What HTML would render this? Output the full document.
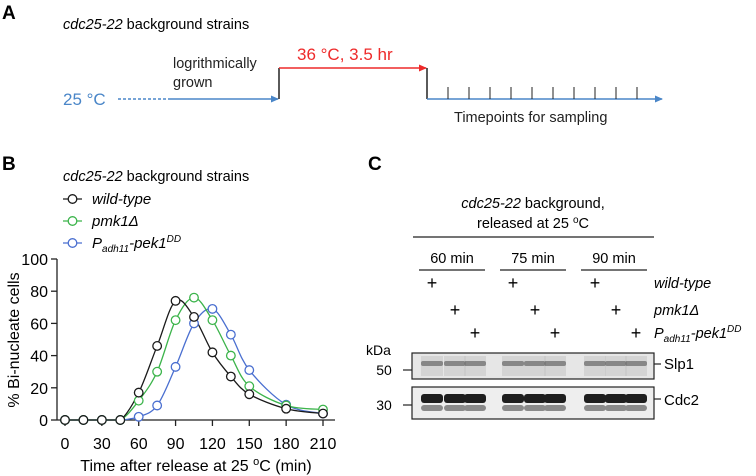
<!DOCTYPE html>
<html><head><meta charset="utf-8"><style>
html,body{margin:0;padding:0;background:#fff;}
svg{display:block;font-family:"Liberation Sans",Arial,sans-serif;}
</style></head><body>
<svg id="fig" width="756" height="476" viewBox="0 0 756 476">
<defs>
<marker id="ab" markerWidth="8" markerHeight="8" refX="7" refY="4" orient="auto" markerUnits="userSpaceOnUse"><path d="M0,0.5 L8,4 L0,7.5 Z" fill="#4a86c8"/></marker>
<marker id="ar" markerWidth="8" markerHeight="8" refX="7" refY="4" orient="auto" markerUnits="userSpaceOnUse"><path d="M0,0.5 L8,4 L0,7.5 Z" fill="#ee2a2a"/></marker>
</defs>
<g>
<text x="2" y="19" font-size="19" font-weight="bold">A</text>
<text x="63" y="29" font-size="14.5"><tspan font-style="italic">cdc25-22</tspan> background strains</text>
<text x="63" y="105" font-size="17" fill="#4a86c8">25 °C</text>
<line x1="118" y1="99" x2="170" y2="99" stroke="#4a86c8" stroke-width="1.5" stroke-dasharray="3,2"/>
<line x1="170" y1="99" x2="278" y2="99" stroke="#4a86c8" stroke-width="1.5" marker-end="url(#ab)"/>
<text x="173" y="68" font-size="14.5" fill="#222">logrithmically</text>
<text x="173" y="87" font-size="14.5" fill="#222">grown</text>
<line x1="279" y1="99" x2="279" y2="68" stroke="#222" stroke-width="1.5"/>
<line x1="279" y1="68" x2="426" y2="68" stroke="#ee2a2a" stroke-width="1.5" marker-end="url(#ar)"/>
<text x="297" y="60" font-size="17" fill="#ee2a2a">36 °C, 3.5 hr</text>
<line x1="427" y1="68" x2="427" y2="99" stroke="#222" stroke-width="1.5"/>
<line x1="427" y1="99" x2="662" y2="99" stroke="#4a86c8" stroke-width="1.5" marker-end="url(#ab)"/>
<g id="tpticks" stroke="#222" stroke-width="1"></g>
<text x="454" y="122" font-size="14.5" fill="#222">Timepoints for sampling</text>
</g>
<g>
<text x="2" y="170" font-size="19" font-weight="bold">B</text>
<text x="63" y="181" font-size="14.5"><tspan font-style="italic">cdc25-22</tspan> background strains</text>
<g id="legend"></g>
<line x1="57" y1="259" x2="57" y2="420" stroke="#222" stroke-width="1.3"/>
<line x1="57" y1="420" x2="335" y2="420" stroke="#222" stroke-width="1.3"/>
<g id="axes"></g>
<g id="series"></g>
<text transform="translate(19,340) rotate(-90)" text-anchor="middle" font-size="16">% Bi-nucleate cells</text>
<text x="196" y="471" text-anchor="middle" font-size="16">Time after release at 25 <tspan font-size="11" dy="-6">o</tspan><tspan dy="6">C (min)</tspan></text>
</g>
<g>
<text x="368" y="170" font-size="19" font-weight="bold">C</text>
<text x="533" y="208" text-anchor="middle" font-size="14.5"><tspan font-style="italic">cdc25-22</tspan> background,</text>
<text x="533" y="228" text-anchor="middle" font-size="14.5">released at 25 <tspan font-size="10" dy="-5">o</tspan><tspan dy="5">C</tspan></text>
<line x1="413" y1="237" x2="654" y2="237" stroke="#222" stroke-width="1.2"/>
<g id="blot"></g>
<text x="366" y="355" font-size="14">kDa</text>
<text x="384" y="375" font-size="14" text-anchor="middle">50</text>
<text x="384" y="410" font-size="14" text-anchor="middle">30</text>
<line x1="403" y1="370" x2="412" y2="370" stroke="#222" stroke-width="1.2"/>
<line x1="403" y1="405" x2="412" y2="405" stroke="#222" stroke-width="1.2"/>
<line x1="654" y1="364" x2="661" y2="364" stroke="#222" stroke-width="1.2"/>
<line x1="654" y1="399" x2="661" y2="399" stroke="#222" stroke-width="1.2"/>
<text x="664" y="369" font-size="15">Slp1</text>
<text x="664" y="405" font-size="15">Cdc2</text>
</g>
</svg>
<script>
const times=[0,15,30,45,60,75,90,105,120,135,150,180,210];
const wtVals=[0,0,0,0,17,46,74,64,42,27,16,7,4];
const pmkVals=[0,0,0,0,12,30,62,76,62,40,21,9,6.5];
const pekVals=[0,0,0,0,2,9,33,60,69,53,31,9.5,4];
const xTicks=[0,30,60,90,120,150,180,210];
const yTicks=[0,20,40,60,80,100];
const NS='http://www.w3.org/2000/svg';
function mk(t,a,p){const e=document.createElementNS(NS,t);for(const k in a)e.setAttribute(k,a[k]);p.appendChild(e);return e;}
const X=v=>65+(v/210)*258;
const Y=v=>420-(v/100)*161;
const axes=document.getElementById('axes');
xTicks.forEach(t=>{
 mk('line',{x1:X(t),y1:420,x2:X(t),y2:426,stroke:'#222','stroke-width':1.3},axes);
 const tx=mk('text',{x:X(t),y:449,'text-anchor':'middle','font-size':16},axes);tx.textContent=t;
 
 
});
yTicks.forEach(t=>{
 mk('line',{x1:51,y1:Y(t),x2:57,y2:Y(t),stroke:'#222','stroke-width':1.3},axes);
 const tx=mk('text',{x:48,y:Y(t)+6,'text-anchor':'end','font-size':16},axes);tx.textContent=t;
 
 
});
function smooth(pts){let d='M'+pts[0][0]+','+pts[0][1];
 for(let i=0;i<pts.length-1;i++){const p0=pts[i-1]||pts[i],p1=pts[i],p2=pts[i+1],p3=pts[i+2]||p2;
  let c1y=p1[1]+(p2[1]-p0[1])/6,c2y=p2[1]-(p3[1]-p1[1])/6;
  c1y=Math.min(c1y,420);c2y=Math.min(c2y,420);
  d+=' C'+(p1[0]+(p2[0]-p0[0])/6)+','+c1y+' '+(p2[0]-(p3[0]-p1[0])/6)+','+c2y+' '+p2[0]+','+p2[1];}
 return d;}
const series=[['wild-type',wtVals,'#1a1a1a'],['pmk1',pmkVals,'#3cb44b'],['pek1DD',pekVals,'#4a6fd0']];
const sg=document.getElementById('series');
[series[2],series[1],series[0]].forEach(([n,vals,c])=>{
 const pts=times.map((t,i)=>[X(t),Y(vals[i])]);
 const p=mk('path',{d:smooth(pts),fill:'none',stroke:c,'stroke-width':1.3},sg);
 
 
});
[series[2],series[1],series[0]].forEach(([n,vals,c])=>{
 times.forEach((t,i)=>{
  const ci=mk('circle',{cx:X(t),cy:Y(vals[i]),r:4.3,fill:'#fff',stroke:c,'stroke-width':1.3},sg);
  
  
 });
});
const lg=document.getElementById('legend');
const legY=[199,221,243];
const legHtml=['<tspan font-style="italic">wild-type</tspan>','<tspan font-style="italic">pmk1Δ</tspan>','<tspan font-style="italic">P<tspan font-size="10" dy="4">adh11</tspan><tspan dy="-4">-pek1</tspan><tspan font-size="10" dy="-6">DD</tspan></tspan>'];
series.forEach(([n,v,c],i)=>{
 const g=mk('g',{},lg);
 
 
 mk('line',{x1:63,y1:legY[i],x2:82,y2:legY[i],stroke:c,'stroke-width':1.3},g);
 mk('circle',{cx:72.5,cy:legY[i],r:4.3,fill:'#fff',stroke:c,'stroke-width':1.3},g);
 const t=mk('text',{x:92,y:legY[i]+5,'font-size':15},g);t.innerHTML=legHtml[i];
});
const tp=document.getElementById('tpticks');
for(let i=0;i<10;i++){mk('line',{x1:448+i*21,y1:87,x2:448+i*21,y2:99},tp);}
const bl=document.getElementById('blot');
const groups=['60 min','75 min','90 min'];const gc=[452,533,614];
groups.forEach((g,i)=>{const t=mk('text',{x:gc[i],y:263,'text-anchor':'middle','font-size':14.5},bl);t.textContent=g;
 mk('line',{x1:gc[i]-33,y1:270,x2:gc[i]+33,y2:270,stroke:'#222','stroke-width':1.2},bl);});
const laneX=[[432,455,475],[513,535,555],[595,616,636]];
const rowY=[289,316,339];
laneX.forEach(gr=>gr.forEach((x,j)=>{const t=mk('text',{x:x,y:rowY[j],'text-anchor':'middle','font-size':18},bl);t.textContent='+';}));
const lab=['wild-type','pmk1Δ','P<tspan font-size="10" dy="4">adh11</tspan><tspan dy="-4">-pek1</tspan><tspan font-size="10" dy="-6">DD</tspan>'];
lab.forEach((l,j)=>{const t=mk('text',{x:654,y:rowY[j]-1,'font-size':14.5,'font-style':'italic'},bl);t.innerHTML=l;});
const b1=mk('rect',{x:412,y:353,width:242,height:26,fill:'#e6e6e6',stroke:'#222','stroke-width':1.2},bl);


const b2=mk('rect',{x:412,y:387,width:242,height:32,fill:'#eeeeee',stroke:'#222','stroke-width':1.2},bl);


laneX.forEach(gr=>gr.forEach(x=>{
 mk('rect',{x:x-11,y:356,width:22,height:20,fill:'#c4c4c4',opacity:0.55},bl);
 mk('rect',{x:x-11,y:361,width:22,height:5,rx:2,fill:'#666',opacity:0.7},bl);
 mk('rect',{x:x-11,y:394,width:22,height:9,rx:3,fill:'#1e1e1e'},bl);
 mk('rect',{x:x-11,y:405,width:22,height:6,rx:3,fill:'#8a8a8a'},bl);
}));
</script>
</body></html>
